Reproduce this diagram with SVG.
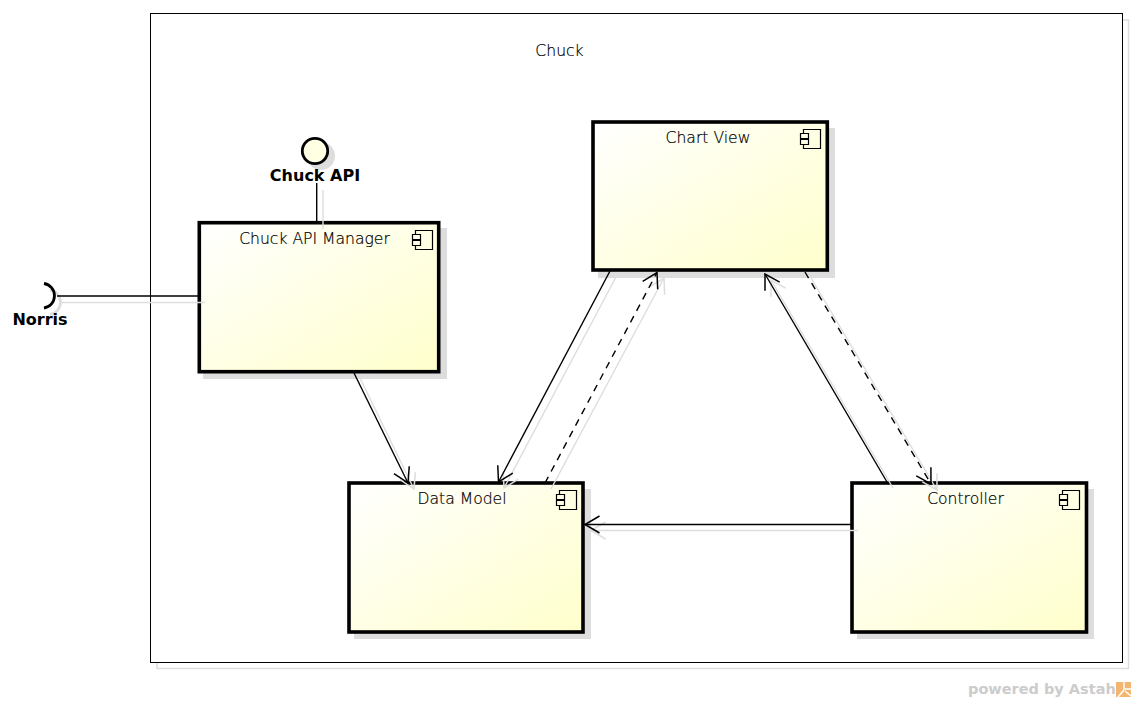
<svg xmlns="http://www.w3.org/2000/svg" width="1136" height="702" viewBox="0 0 1136 702">
<style>
text{font-family:"DejaVu Sans","Liberation Sans",sans-serif;fill:#000}
.t{font-size:15.600px;font-weight:200;text-anchor:middle;stroke:#000;stroke-width:.2}
.b{font-size:16px;font-weight:700;text-anchor:middle}
.box{fill:url(#g);stroke:#000;stroke-width:3.600}
.sh{fill:#ddd}
.ic{fill:none;stroke:#000;stroke-width:1.200}
.tab{fill:#ffffe6;stroke:#000;stroke-width:1.200}
.c{fill:none;stroke:#000;stroke-width:1.400}
.s{fill:none;stroke:#ddd;stroke-width:1.400}
.d{stroke-dasharray:7 6}
</style>
<defs>
<linearGradient id="g" x1="0" y1="0" x2="1" y2="1"><stop offset="0" stop-color="#fff"/><stop offset="1" stop-color="#ffc"/></linearGradient>
<g id="icon"><path class="ic" d="M3.500 .5H20.500V19.500H3.500Z"/><path class="tab" d="M.5 4.500H8.500V9.500H.5ZM.5 10.500H8.500V15.500H.5Z"/></g>
<marker id="a" markerUnits="userSpaceOnUse" markerWidth="40" markerHeight="40" refX="20" refY="20" orient="auto" overflow="visible"><path d="M5.500 11.500L20 20L5.500 28.500" fill="none" stroke="#000" stroke-width="1.500"/></marker>
<marker id="as" markerUnits="userSpaceOnUse" markerWidth="40" markerHeight="40" refX="20" refY="20" orient="auto" overflow="visible"><path d="M5.500 11.500L20 20L5.500 28.500" fill="none" stroke="#ddd" stroke-width="1.500"/></marker>
</defs>
<rect width="1136" height="702" fill="#fff"/>
<g id="frame">
<rect x="157" y="20" width="971.500" height="648.500" fill="none" stroke="#ddd" stroke-width="1.500"/>
<rect x="150.500" y="13.500" width="972" height="649" fill="#fff" stroke="#000" stroke-width="1"/>
<text class="t" x="559.500" y="56">Chuck</text>
</g>
<g id="chart-view">
<rect class="sh" x="598" y="128" width="237" height="150"/>
<rect class="box" x="593" y="122" width="234.300" height="148"/>
<text class="t" x="708" y="143">Chart View</text>
<use href="#icon" x="800" y="129"/>
</g>
<g id="chuck-api-manager">
<rect class="sh" x="203" y="228" width="244" height="151"/>
<rect class="box" x="199.300" y="222.700" width="239.400" height="149"/>
<text class="t" x="314.500" y="244">Chuck API Manager</text>
<use href="#icon" x="412" y="230"/>
</g>
<g id="data-model">
<rect class="sh" x="354" y="489" width="237" height="150"/>
<rect class="box" x="349" y="483" width="234" height="149"/>
<text class="t" x="462" y="504">Data Model</text>
<use href="#icon" x="556" y="490"/>
</g>
<g id="controller">
<rect class="sh" x="857" y="489" width="237" height="150"/>
<rect class="box" x="852" y="483" width="234.500" height="149"/>
<text class="t" x="965.500" y="504">Controller</text>
<use href="#icon" x="1059" y="490"/>
</g>
<g id="chuck-api">
<circle cx="321" cy="156" r="14" fill="#ddd"/>
<circle cx="315" cy="151" r="12.700" fill="#ffffe4" stroke="#000" stroke-width="2.800"/>
<text class="b" x="315" y="181">Chuck API</text>
</g>
<g id="norris">
<path d="M50 290A12.400 12.400 0 0 1 50 314.500" fill="none" stroke="#ddd" stroke-width="2.800"/>
<path d="M44 283.500A12.400 12.400 0 0 1 44 308" fill="none" stroke="#000" stroke-width="2.800"/>
<text class="b" x="40" y="325">Norris</text>
</g>
<g id="connectors">
<path class="s" d="M323 190V229"/>
<path class="s" d="M62 302.500H205"/>
<path class="s" d="M360 378L414 489" marker-end="url(#as)"/>
<path class="s" d="M616 277L504 488" marker-end="url(#as)"/>
<path class="s" d="M551 489L664 278" marker-end="url(#as)"/>
<path class="s" d="M893 488L771 280" marker-end="url(#as)"/>
<path class="s" d="M811 278L937 490" marker-end="url(#as)"/>
<path class="s" d="M858 530.500H591" marker-end="url(#as)"/>
<path class="c" d="M316.700 183V221"/>
<path class="c" d="M57 296H198"/>
<path class="c" d="M354 373L408 483" marker-end="url(#a)"/>
<path class="c" d="M610 271L498.500 482" marker-end="url(#a)"/>
<path class="c d" d="M545 483L657 272.500" marker-end="url(#a)"/>
<path class="c" d="M887 482L765 274" marker-end="url(#a)"/>
<path class="c d" d="M805 272L931 484" marker-end="url(#a)"/>
<path class="c" d="M851 524.500H585" marker-end="url(#a)"/>
</g>
<g id="watermark">
<text x="968" y="694" style="font-size:14.500px;font-weight:700;fill:#ccc">powered by Astah</text>
<rect x="1116" y="682" width="15" height="15" fill="#f3b56f"/>
<path d="M1124 682V689H1131M1118 697L1124 690M1125 691L1131 696" fill="none" stroke="#fff" stroke-width="1.500"/>
</g>
</svg>
